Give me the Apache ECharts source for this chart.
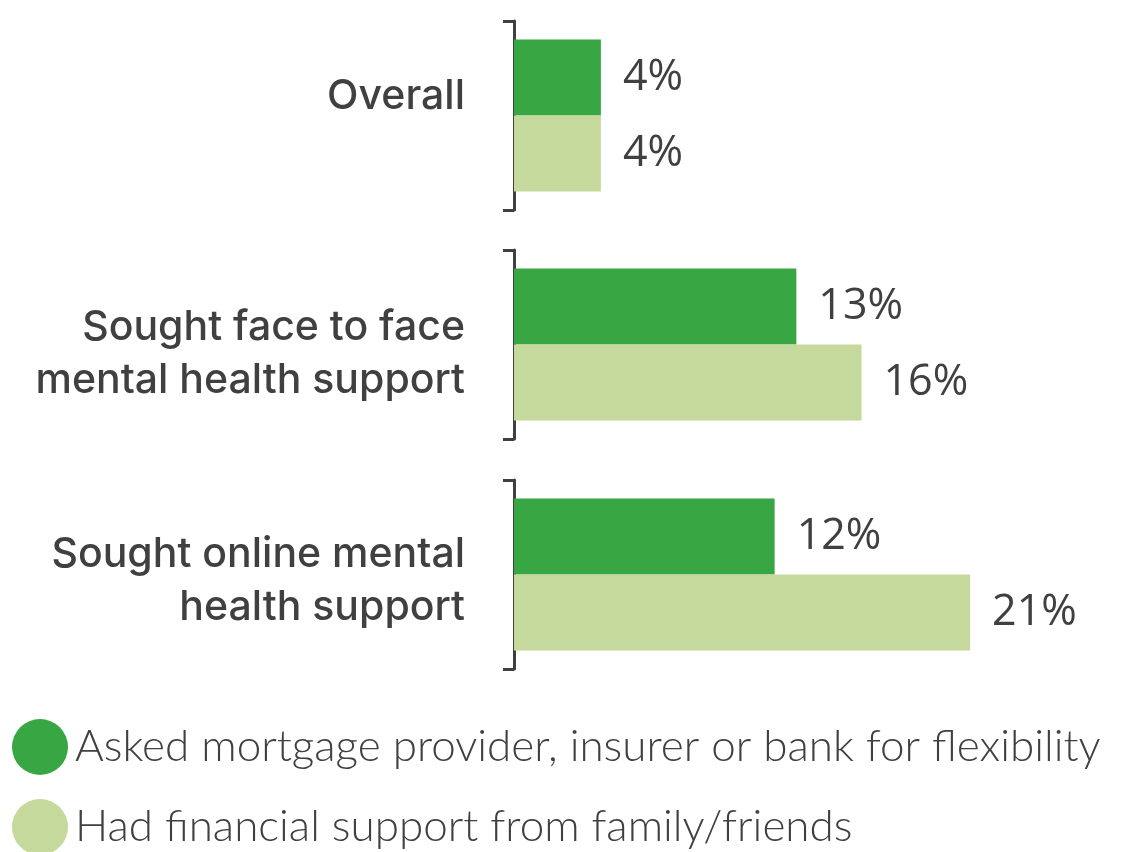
<!DOCTYPE html>
<html>
<head>
<meta charset="utf-8">
<script src="https://cdn.jsdelivr.net/npm/echarts@6/dist/echarts.min.js"></script>
<style>
  html, body { margin: 0; padding: 0; background: #ffffff; }
  #chart { width: 1130px; height: 852px; }
</style>
</head>
<body>
<div id="chart"></div>
<script>
// Groups shown down the chart, one bracketed block each
const categories = [
  'Overall',
  'Sought face to face\nmental health support',
  'Sought online mental\nhealth support'
];
const seriesNames = [
  'Asked mortgage provider, insurer or bank for flexibility',
  'Had financial support from family/friends'
];
// Percentages per group
const askedValues = [4, 13, 12];
const familyValues = [4, 16, 21];

const textColor = '#404040';
const colors = ['#38a642', '#c4d99b'];
const gridTops = [21, 250, 480];
// vertical nudges of each group title relative to its bracket
const labelPadding = [[0, 0, 38, 0], [20, 0, 0, 0], [14, 0, 0, 0]];
const legendTops = [714, 794];

const titleFont = {
  color: textColor,
  fontFamily: 'Inter',
  fontWeight: 500,
  fontSize: 41,
  lineHeight: 53,
  align: 'right'
};

const grids = [], xAxes = [], yAxes = [], series = [];
categories.forEach((cat, i) => {
  grids.push({ left: 514, width: 543, top: gridTops[i], height: 189 });
  xAxes.push({ gridIndex: i, type: 'value', min: 0, max: 25, show: false });
  yAxes.push({
    gridIndex: i,
    type: 'category',
    inverse: true,
    data: [cat],
    axisLine: { show: true, lineStyle: { color: textColor, width: 3 } },
    axisTick: { show: true, length: 11, lineStyle: { color: textColor, width: 3 } },
    axisLabel: Object.assign({}, titleFont, {
      margin: 49,
      formatter: v => v.split('\n').map(line => '{t|' + line + '}').join('\n'),
      rich: {
        t: Object.assign({}, titleFont, { padding: labelPadding[i] })
      }
    })
  });
  [askedValues, familyValues].forEach((vals, k) => {
    series.push({
      name: seriesNames[k],
      type: 'bar',
      xAxisIndex: i,
      yAxisIndex: i,
      data: [vals[i]],
      barWidth: 76,
      barGap: '0%',
      itemStyle: { color: colors[k] },
      label: {
        show: true,
        position: 'right',
        distance: 22,
        color: textColor,
        fontFamily: 'Open Sans',
        fontWeight: 500,
        fontSize: 43,
        formatter: p => p.value + '%'
      },
      silent: true
    });
  });
});

// One legend row per series, stacked under the bars
const legends = seriesNames.map((name, k) => ({
  left: 7,
  top: legendTops[k],
  icon: 'circle',
  itemWidth: 56,
  itemHeight: 56,
  data: [name],
  selectedMode: false,
  textStyle: {
    color: textColor,
    fontFamily: 'Lato',
    fontWeight: 300,
    fontSize: 44,
    padding: [0, 0, 0, 2]
  }
}));

const chart = echarts.init(document.getElementById('chart'), null, { renderer: 'canvas' });
chart.setOption({
  animation: false,
  backgroundColor: '#ffffff',
  color: colors,
  legend: legends,
  grid: grids,
  xAxis: xAxes,
  yAxis: yAxes,
  series: series
});
</script>
</body>
</html>
